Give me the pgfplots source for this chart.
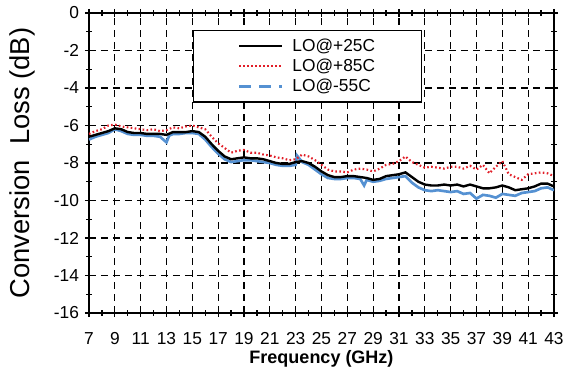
\documentclass[border=0pt]{standalone}
\usepackage{pgfplots}
\pgfplotsset{compat=1.18}
\usepackage{fontspec}
\setmainfont{Liberation Sans}
\definecolor{cred}{RGB}{225,30,40}
\definecolor{cblue}{RGB}{85,145,210}
\pgfplotstableread{
x y
7 -6.6
7.5 -6.5
8 -6.4
8.5 -6.3
9 -6.15
9.5 -6.2
10 -6.35
10.5 -6.4
11 -6.4
11.5 -6.45
12 -6.45
12.5 -6.45
13 -6.5
13.5 -6.35
14 -6.35
14.5 -6.35
15 -6.3
15.5 -6.35
16 -6.6
16.5 -7.0
17 -7.35
17.5 -7.65
18 -7.8
18.5 -7.75
19 -7.7
19.5 -7.75
20 -7.75
20.5 -7.8
21 -7.9
21.5 -8.0
22 -8.05
22.5 -8.05
23 -7.95
23.5 -7.9
24 -8.0
24.5 -8.2
25 -8.45
25.5 -8.65
26 -8.75
26.5 -8.75
27 -8.7
27.5 -8.7
28 -8.75
28.5 -8.8
29 -8.9
29.5 -8.85
30 -8.7
30.5 -8.65
31 -8.6
31.5 -8.5
32 -8.75
32.5 -9.0
33 -9.15
33.5 -9.2
34 -9.2
34.5 -9.15
35 -9.2
35.5 -9.15
36 -9.25
36.5 -9.15
37 -9.25
37.5 -9.35
38 -9.35
38.5 -9.3
39 -9.2
39.5 -9.3
40 -9.45
40.5 -9.4
41 -9.35
41.5 -9.25
42 -9.1
42.5 -9.1
43 -9.25
}\tblack
\pgfplotstableread{
x y
7 -6.45
7.5 -6.3
8 -6.2
8.5 -6.0
9 -5.95
9.5 -6.05
10 -6.1
10.5 -6.15
11 -6.2
11.5 -6.25
12 -6.2
12.5 -6.3
13 -6.25
13.5 -6.1
14 -6.15
14.5 -6.05
15 -6.0
15.5 -6.1
16 -6.2
16.5 -6.6
17 -6.95
17.5 -7.2
18 -7.45
18.5 -7.35
19 -7.3
19.5 -7.45
20 -7.45
20.5 -7.55
21 -7.6
21.5 -7.7
22 -7.75
22.5 -7.85
23 -7.8
23.5 -7.55
24 -7.65
24.5 -7.85
25 -8.1
25.5 -8.35
26 -8.45
26.5 -8.45
27 -8.5
27.5 -8.35
28 -8.3
28.5 -8.35
29 -8.45
29.5 -8.3
30 -8.1
30.5 -8.05
31 -7.9
31.5 -7.65
32 -7.95
32.5 -8.1
33 -8.25
33.5 -8.2
34 -8.25
34.5 -8.3
35 -8.2
35.5 -8.2
36 -8.3
36.5 -8.15
37 -8.35
37.5 -8.1
38 -8.55
38.5 -8.2
39 -7.9
39.5 -8.6
40 -8.75
40.5 -8.9
41 -8.6
41.5 -8.55
42 -8.5
42.5 -8.55
43 -8.7
}\tred
\pgfplotstableread{
x y
7 -6.75
7.5 -6.6
8 -6.5
8.5 -6.4
9 -6.2
9.5 -6.3
10 -6.45
10.5 -6.5
11 -6.5
11.5 -6.55
12 -6.55
12.5 -6.6
13 -6.9
13.2 -6.55
13.5 -6.45
14 -6.45
14.5 -6.4
15 -6.4
15.5 -6.45
16 -6.75
16.5 -7.15
17 -7.5
17.5 -7.8
18 -7.95
18.5 -7.9
19 -7.85
19.5 -7.85
20 -7.9
20.5 -7.95
21 -8.0
21.5 -8.1
22 -8.15
22.5 -8.15
23 -8.1
23.1 -7.6
23.5 -7.95
24 -8.1
24.5 -8.35
25 -8.6
25.5 -8.8
26 -8.85
26.5 -8.85
27 -8.8
27.5 -8.8
28 -8.85
28.3 -9.2
28.5 -8.9
29 -9.0
29.5 -8.95
30 -8.85
30.5 -8.8
31 -8.75
31.5 -8.7
32 -9.05
32.5 -9.3
33 -9.45
33.5 -9.5
34 -9.45
34.5 -9.5
35 -9.55
35.5 -9.5
36 -9.65
36.5 -9.6
37 -9.9
37.5 -9.7
38 -9.75
38.5 -9.85
39 -9.65
39.5 -9.7
40 -9.75
40.5 -9.6
41 -9.55
41.5 -9.5
42 -9.35
42.5 -9.3
43 -9.45
}\tblue
\begin{document}
\begin{tikzpicture}
\useasboundingbox (-66.75pt,-43.5pt) rectangle (357pt,234.75pt);
\begin{axis}[
  at={(0,0)}, anchor=south west,
  scale only axis,
  width=348.75pt, height=225pt,
  xmin=7, xmax=43, ymin=-16, ymax=0,
  xtick={7,9,...,43}, ytick={-16,-14,...,0},
  minor x tick num=1, minor y tick num=1,
  tick align=center,
  major tick length=6pt, minor tick length=4pt,
  every tick/.style={black, line width=0.9pt},
  axis line style={line width=1.5pt},
  grid=major,
  major grid style={black, line width=0.9pt, dash pattern=on 5pt off 4pt},
  /pgf/number format/assume math mode=true,
  ticklabel style={font=\fontsize{13}{15}\selectfont},
  xticklabel style={yshift=-8pt},
  yticklabel style={xshift=-1pt},
  xlabel={\textbf{Frequency (GHz)}},
  xlabel style={font=\fontsize{13.5}{16}\selectfont, at={(axis description cs:0.5,-0.152)}, anchor=center},
  ylabel={Conversion\ \ Loss (dB)},
  ylabel style={font=\fontsize{20.5}{24}\selectfont, at={(axis description cs:-0.144,0.5)}, anchor=center},
  legend style={at={(axis description cs:0.224,0.943)}, anchor=north west, draw=black, line width=1pt,
    font=\fontsize{13}{15}\selectfont, inner xsep=33pt, inner ysep=4pt, row sep=0.3pt,
    /tikz/every odd column/.append style={column sep=5pt}},
  legend cell align=left,
  legend image code/.code={\draw[#1] (0pt,0pt) -- (32pt,0pt);},
]
\addplot[cblue, line width=2pt, forget plot] table {\tblue};
\addplot[black, line width=1.8pt] table {\tblack};
\addlegendentry{LO@+25C}
\addplot[cred, line width=1.6pt, dash pattern=on 1.2pt off 1.8pt] table {\tred};
\addlegendentry{LO@+85C}
\addlegendimage{cblue, line width=2pt, dash pattern=on 9pt off 6pt}
\addlegendentry{LO@-55C}
\end{axis}
\end{tikzpicture}
\end{document}
